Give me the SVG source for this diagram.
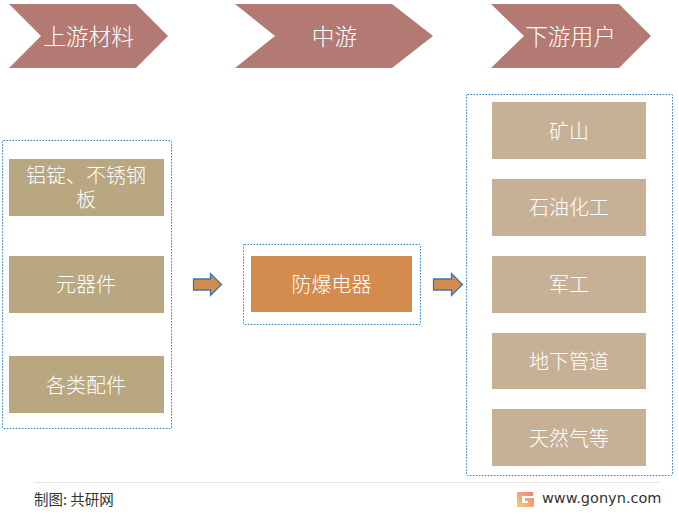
<svg xmlns="http://www.w3.org/2000/svg" width="679" height="514" viewBox="0 0 679 514">
<defs>
<linearGradient id="logo" x1="0" y1="1" x2="1" y2="0"><stop offset="0" stop-color="#fbc87a"/><stop offset="1" stop-color="#ee7f76"/></linearGradient>
</defs>
<style>
text{font-family:"Noto Sans CJK SC","Liberation Sans",sans-serif;text-anchor:middle;fill:#fff;font-size:20px;font-weight:300}
.head{fill:#b27a73}
.head+text{font-size:22.700px}
.dot{fill:#fff;stroke:#2e7cc0;stroke-width:1;stroke-dasharray:1.5 1.5}
.a{fill:#b8a780}.b{fill:#c7b196}.c{fill:#d38c4e}
.arrow{fill:#d38c4e;stroke:#3b75ad;stroke-width:1.3}
.foot{fill:#333;font-size:14.500px;font-weight:400;text-anchor:start}
</style>
<rect width="679" height="514" fill="#fff"/>
<g id="head-up"><polygon class="head" points="9,4 136,4 168,36 136,68 9,68 41,36"/><text x="88.500" y="44.500">上游材料</text></g>
<g id="head-mid"><polygon class="head" points="235,4 392,4 433,36 392,68 235,68 275,36"/><text x="334.500" y="44.500">中游</text></g>
<g id="head-down"><polygon class="head" points="491,4 619,4 651,36 619,68 491,68 524,36"/><text x="570.500" y="44.500">下游用户</text></g>
<g id="frame-left"><rect class="dot" x="2.500" y="140.500" width="169" height="288" rx="1"/></g>
<g id="frame-mid"><rect class="dot" x="243.500" y="244.500" width="177" height="80" rx="1"/></g>
<g id="frame-right"><rect class="dot" x="466.500" y="94.500" width="206" height="381" rx="1"/></g>
<g id="n1"><rect class="a" x="9" y="159" width="155" height="57"/><text x="86" y="183"><tspan x="86" y="183">铝锭、不锈钢</tspan><tspan x="86" dy="23.500">板</tspan></text></g>
<g id="n2"><rect class="a" x="9" y="256" width="155" height="57"/><text x="86" y="292">元器件</text></g>
<g id="n3"><rect class="a" x="9" y="356" width="155" height="57"/><text x="86" y="393">各类配件</text></g>
<g id="n4"><rect class="c" x="251" y="256" width="161" height="56"/><text x="331.500" y="292">防爆电器</text></g>
<g id="n5"><rect class="b" x="492" y="102" width="154" height="57"/><text x="569" y="139">矿山</text></g>
<g id="n6"><rect class="b" x="492" y="179" width="154" height="57"/><text x="569" y="215">石油化工</text></g>
<g id="n7"><rect class="b" x="492" y="256" width="154" height="57"/><text x="569" y="292">军工</text></g>
<g id="n8"><rect class="b" x="492" y="333" width="154" height="56"/><text x="569" y="369">地下管道</text></g>
<g id="n9"><rect class="b" x="492" y="409" width="154" height="57"/><text x="569" y="446">天然气等</text></g>
<g id="connectors">
<polygon class="arrow" points="193.500,279 210.500,279 210.500,273.500 221.500,284.500 210.500,295.500 210.500,290 193.500,290"/>
<polygon class="arrow" points="433.500,279 451.500,279 451.500,273.500 462.500,284.500 451.500,295.500 451.500,290 433.500,290"/>
</g>
<g id="footer">
<line x1="34" y1="482.500" x2="660" y2="482.500" stroke="#e6e6e6"/>
<text class="foot" x="34" y="505">制图: 共研网</text>
<path d="M517,492h16v4h-11v7h6v-2h-3v-3h9v9h-17z" fill="url(#logo)"/>
<text class="foot" x="542" y="503" style="font-family:'DejaVu Sans','Liberation Sans',sans-serif;font-size:14.500px">www.gonyn.com</text>
</g>
</svg>
